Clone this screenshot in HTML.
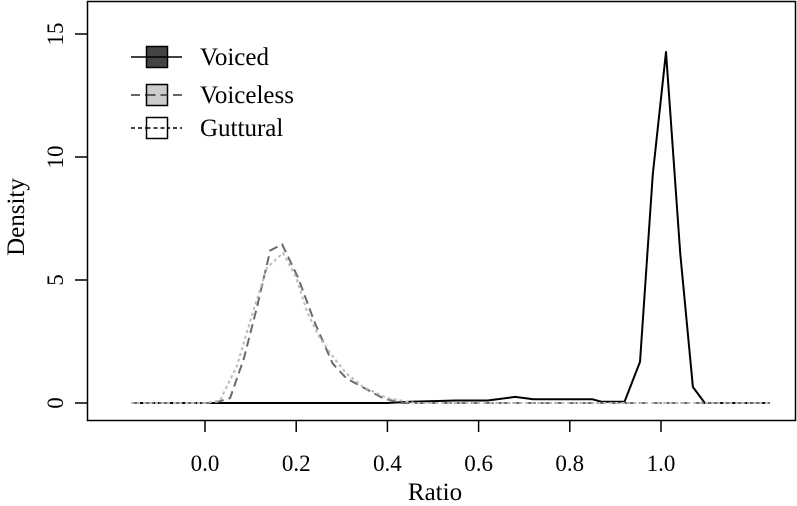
<!DOCTYPE html>
<html><head><meta charset="utf-8"><style>
html,body{margin:0;padding:0;background:#fff;}
svg{display:block;font-family:"Liberation Serif",serif;}
</style></head><body>
<svg id="chart" width="797" height="506"></svg>
<script>
const xTicks=[0.0,0.2,0.4,0.6,0.8,1.0];
const xTickLabels=["0.0","0.2","0.4","0.6","0.8","1.0"];
const yTicks=[0,5,10,15];
const yTickLabels=["0","5","10","15"];
const voicedX=[-0.162,0.40,0.45,0.55,0.62,0.68,0.72,0.85,0.87,0.92,0.954,0.982,1.011,1.042,1.070,1.096,1.239];
const voicedY=[0,0,0.05,0.1,0.1,0.25,0.15,0.15,0.05,0.05,1.67,9.3,14.27,6.1,0.65,0,0];
const voicelessX=[-0.162,0.02,0.055,0.085,0.114,0.143,0.169,0.204,0.24,0.28,0.31,0.35,0.39,0.43,1.239];
const voicelessY=[0,0,0.2,1.8,3.9,6.2,6.45,5.1,3.3,1.6,1.0,0.6,0.2,0,0];
const gutturalX=[-0.162,0.0,0.033,0.07,0.105,0.136,0.171,0.2,0.224,0.25,0.28,0.31,0.347,0.40,0.46,1.239];
const gutturalY=[0,0,0.1,1.5,3.7,5.5,6.1,5.1,3.7,2.7,1.9,1.2,0.65,0.2,0,0];
const svg=document.getElementById('chart');
const NS='http://www.w3.org/2000/svg';
const sx=v=>205+v*456;
const sy=v=>403-v*24.6;
function mk(t,a){const e=document.createElementNS(NS,t);for(const k in a)e.setAttribute(k,a[k]);svg.appendChild(e);return e;}
let e;
e=mk('rect',{x:87.5,y:1.5,width:708,height:419,fill:'none',stroke:'#000','stroke-width':1.5});


xTicks.forEach((v,i)=>{
  e=mk('line',{x1:sx(v),x2:sx(v),y1:420,y2:432,stroke:'#000','stroke-width':1.5});
  
  
  e=mk('text',{x:sx(v),y:471,'font-size':23,'text-anchor':'middle'});e.textContent=xTickLabels[i];
  
  
});
yTicks.forEach((v,i)=>{
  e=mk('line',{x1:75,x2:87,y1:sy(v),y2:sy(v),stroke:'#000','stroke-width':1.5});
  
  
  e=mk('text',{x:0,y:0,'font-size':23,'text-anchor':'middle',transform:`translate(63,${sy(v)}) rotate(-90)`});e.textContent=yTickLabels[i];
  
  
});
e=mk('text',{x:435,y:500,'font-size':25,'text-anchor':'middle'});e.textContent='Ratio';


e=mk('text',{x:0,y:0,'font-size':25,'text-anchor':'middle',transform:'translate(24,217) rotate(-90)'});e.textContent='Density';


function series(xs,ys,col,dash,w,name){
  const d=xs.map((x,i)=>(i?'L':'M')+sx(x).toFixed(1)+','+sy(ys[i]).toFixed(1)).join('');
  const p=mk('path',{d:d,fill:'none',stroke:col,'stroke-width':w,'stroke-dasharray':dash,'stroke-linejoin':'round'});
  
  
}
series(voicedX,voicedY,'#000','none',2,'voiced-line');
series(voicelessX,voicelessY,'#6a6a6a','9,5',2,'voiceless-line');
series(gutturalX,gutturalY,'#bbbbbb','3,3',2,'guttural-line');
const legend=[['Voiced','#444','#000','none',57],['Voiceless','#ccc','#333','9,5',95],['Guttural','#fff','#000','4,3',128]];
legend.forEach(l=>{
  e=mk('line',{x1:131,x2:182,y1:l[4],y2:l[4],stroke:l[2],'stroke-width':1.5,'stroke-dasharray':l[3]});
  
  
  e=mk('rect',{x:146.5,y:l[4]-10.5,width:21,height:21,fill:l[1],stroke:'#000','stroke-width':1.5});
  
  
  mk('line',{x1:146.5,x2:167.5,y1:l[4],y2:l[4],stroke:l[2],'stroke-width':1.5,'stroke-dasharray':l[3]});
  e=mk('text',{x:200,y:l[4]+8,'font-size':25});e.textContent=l[0];
  
  
});
</script>
</body></html>
